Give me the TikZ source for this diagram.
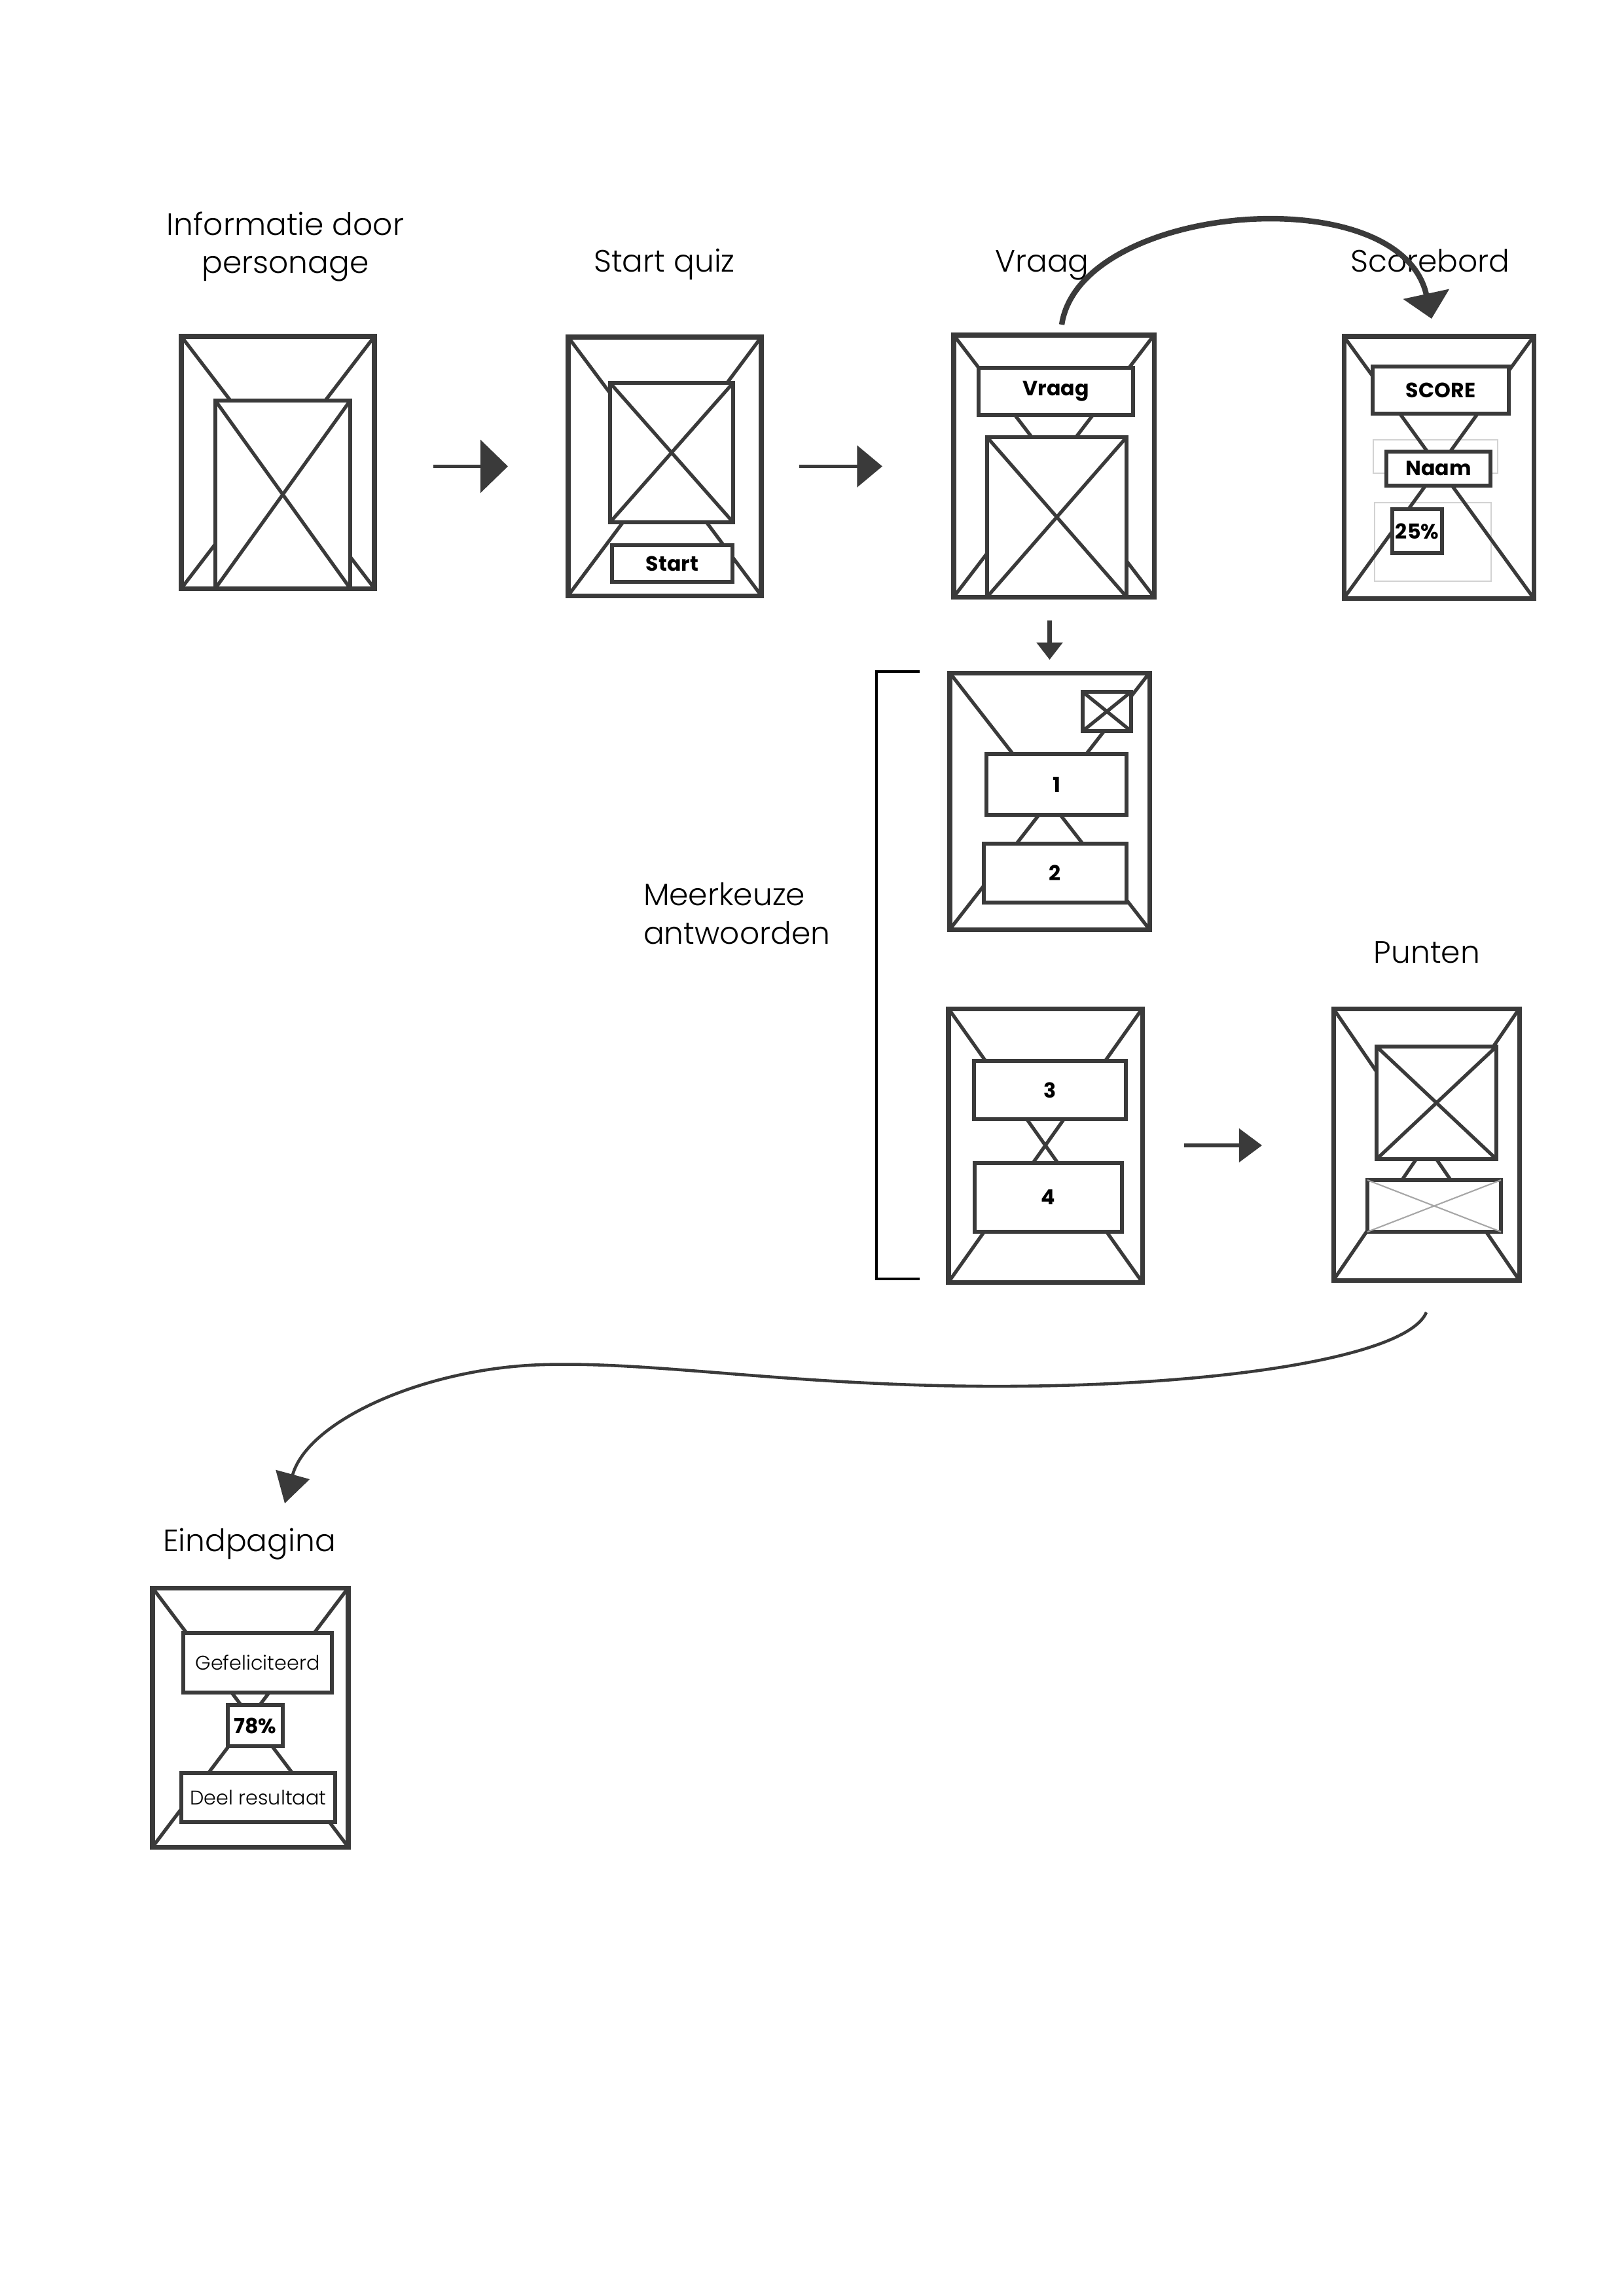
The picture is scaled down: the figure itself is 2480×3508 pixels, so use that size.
\documentclass[tikz,border=0pt]{standalone}
\usepackage{fontspec}
\setmainfont{Poppins}
\newfontfamily\lightfont{Poppins}[UprightFont=* Light]
\usetikzlibrary{arrows.meta}
\definecolor{ink}{HTML}{3A3A3A}
\newcommand\crossnode[2][diag]{\draw[#1] (#2.north west) -- (#2.south east) (#2.north east) -- (#2.south west);}
\begin{document}
\begin{tikzpicture}[x=0.01cm,y=-0.01cm,
  sz/.style 2 args={minimum width=#1*0.01cm, minimum height=#2*0.01cm},
  frame/.style={draw=ink, line width=2pt, inner sep=0pt, outer sep=0pt},
  diag/.style={draw=ink, line width=1.5pt},
  thinx/.style={draw=gray!70, line width=0.6pt},
  box/.style={draw=ink, fill=white, line width=1.8pt, inner sep=0pt, outer sep=0pt,
    text=black, font=\fontsize{9}{11}\selectfont\bfseries},
  rbox/.style={box, font=\fontsize{8.6}{10}\selectfont\lightfont},
  ghost/.style={draw=gray!35, line width=0.8pt, inner sep=0pt, outer sep=0pt},
  title/.style={inner sep=0pt, outer sep=0pt, text=black, font=\fontsize{13.4}{16}\selectfont\lightfont},
  arr/.style={draw=ink, line width=1.5pt},
]
\useasboundingbox (0,0) rectangle (2480,3508);
\fill[white] (0,0) rectangle (2480,3508);

% ---------- titles ----------
\node[title, anchor=base] (t1a) at (436,359) {Informatie door};
\node[title, anchor=base] (t1b) at (436,417) {personage};
\node[title, anchor=base] (t2) at (1015,415) {Start quiz};
\node[title, anchor=base] (t3) at (1592,415) {Vraag};
\node[title, anchor=base] (t4) at (2185,415) {Scorebord};
\node[title, anchor=base west] (t6a) at (983,1383) {Meerkeuze};
\node[title, anchor=base west] (t6b) at (983,1442) {antwoorden};
\node[title, anchor=base] (t7) at (2180,1471) {Punten};
\node[title, anchor=base] (t8) at (381,2370) {Eindpagina};

% ---------- 1 Informatie ----------
\node[frame, sz={295}{385}] (f1) at (424.5,706.5) {};
\crossnode{f1}
\node[box, sz={206}{287}] (f1i) at (432,755.5) {};
\crossnode{f1i}

% ---------- 2 Start quiz ----------
\node[frame, sz={295}{395}] (f2) at (1015.5,712.5) {};
\crossnode{f2}
\node[box, sz={188}{213}] (f2i) at (1026,691.5) {};
\crossnode{f2i}
\node[box, sz={184}{56}] (f2b) at (1027,861) {Start};

% ---------- 3 Vraag ----------
\node[frame, sz={306}{400}] (f3) at (1610,712) {};
\crossnode{f3}
\node[box, sz={236}{72}] (f3b) at (1613,598) {Vraag};
\node[box, sz={213}{244}] (f3i) at (1614.5,790) {};
\crossnode{f3i}

% ---------- 4 Scorebord ----------
\node[frame, sz={290}{400}] (f4) at (2198,714) {};
\node[ghost, sz={190}{51}] (f4g1) at (2193,697.5) {};
\node[ghost, sz={178}{120}] (f4g2) at (2189,828) {};
\crossnode{f4}
\node[box, sz={208}{72}] (f4s) at (2201,596) {SCORE};
\node[box, sz={159}{52}] (f4n) at (2197.5,716) {Naam};
\node[box, sz={76}{67}] (f4p) at (2165,811.5) {25\%};

% ---------- 5 Meerkeuze 1 ----------
\node[frame, sz={305}{392}] (f5) at (1603.5,1224) {};
\crossnode{f5}
\node[box, sz={74}{60}] (f5i) at (1691,1087) {};
\crossnode{f5i}
\node[box, sz={214}{93}] (f5a) at (1614,1198.5) {1};
\node[box, sz={218}{90}] (f5b) at (1612,1334) {2};

% ---------- 6 Meerkeuze 2 ----------
\node[frame, sz={296}{418}] (f6) at (1597,1750) {};
\crossnode{f6}
\node[box, sz={232}{89}] (f6a) at (1604,1665.5) {3};
\node[box, sz={225}{105}] (f6b) at (1601.5,1829.5) {4};

% ---------- 7 Punten ----------
\node[frame, sz={284}{415}] (f7) at (2179,1748.5) {};
\crossnode{f7}
\node[box, sz={183}{172}] (f7i) at (2194.5,1685) {};
\crossnode{f7i}
\node[box, sz={204}{79}] (f7b) at (2191,1842.5) {};
\crossnode[thinx]{f7b}

% ---------- 8 Eindpagina ----------
\node[frame, sz={299}{396}] (f8) at (382.5,2624) {};
\crossnode{f8}
\node[rbox, sz={227}{91}] (f8a) at (393.5,2540.5) {Gefeliciteerd};
\node[box, sz={84}{63}] (f8b) at (390,2636.5) {78\%};
\node[rbox, sz={235}{75}] (f8c) at (394.5,2746.5) {Deel resultaat};

% ---------- bracket ----------
\draw[black, line width=1.2pt] (1405,1026) -- (1339,1026) -- (1339,1954) -- (1405,1954);

% ---------- arrows ----------
\draw[arr, -{Triangle[length=12pt,width=23pt]}, shorten <=0.9cm, shorten >=0.92cm]
  (f1.east |- f2.west) -- (f2.west);
\draw[arr, -{Triangle[length=11pt,width=18pt]}, shorten <=0.58cm, shorten >=1.09cm]
  (f2.east) -- (f2.east -| f3.west);
\draw[arr, line width=2pt, -{Triangle[length=7.5pt,width=11pt]}, shorten <=0.36cm, shorten >=0.2cm]
  (f3.south -| f5.north) -- (f5.north);
\draw[arr, -{Triangle[length=10pt,width=14.5pt]}, shorten <=0.64cm, shorten >=1.09cm]
  (f6.east) -- (f6.east -| f7.west);

\coordinate (cs) at ([xshift=0.12cm,yshift=0.16cm]f3.north);
\coordinate (ce) at ([xshift=-0.11cm,yshift=0.27cm]f4.north);
\draw[arr, line width=2.4pt, -{Triangle[length=11pt,width=20pt]}]
  (cs) .. controls (1650,310) and (2140,270) .. (ce);

\coordinate (bs) at ([yshift=-0.49cm]f7.south);
\coordinate (be) at ([xshift=0.54cm,yshift=0.73cm]t8.base);
\draw[arr, line width=1.3pt, -{Triangle[length=13pt,width=15pt]}]
  (bs) .. controls (2150,2075) and (1850,2120) .. (1500,2118)
       .. controls (1200,2116) and (1000,2080) .. (830,2085)
       .. controls (650,2090) and (470,2170) .. (be);
\end{tikzpicture}
\end{document}
